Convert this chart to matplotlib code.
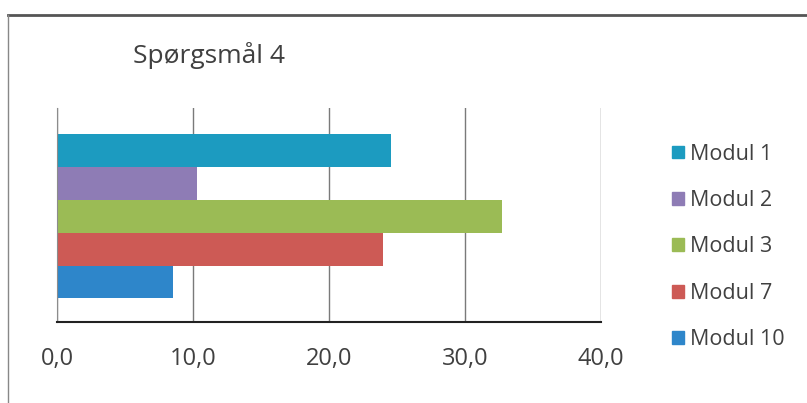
import matplotlib
matplotlib.use("Agg")
import matplotlib.pyplot as plt
from matplotlib.patches import Patch
from matplotlib.ticker import FuncFormatter

# data
series = ["Modul 1", "Modul 2", "Modul 3", "Modul 7", "Modul 10"]
values = [24.6, 10.3, 32.7, 24.0, 8.5]
colors = ["#1C9BC0", "#8E7CB5", "#9BBB55", "#CD5A55", "#2E86CA"]
xticks = [0, 10, 20, 30, 40]
title = "Spørgsmål 4"

plt.rcParams["font.family"] = ["Open Sans", "DejaVu Sans"]
txt = "#404040"

fig = plt.figure(figsize=(8.07, 4.03), dpi=100)
ax = fig.add_axes([0.0706, 0.200, 0.674, 0.532])

# one category, five series stacked top to bottom
pos = [len(series) - 1 - i for i in range(len(series))]
ax.barh(pos, values, height=1.0, color=colors, zorder=2)

ax.set_xlim(0, 40)
ax.set_ylim(-1.23, 5.29)
ax.set_xticks(xticks)
ax.xaxis.set_major_formatter(FuncFormatter(lambda v, p: f"{v:.1f}".replace(".", ",")))
ax.tick_params(axis="x", length=0, labelsize=17, colors=txt, pad=18)
ax.set_yticks([])
ax.grid(axis="x", color="#7a7a7a", lw=1.0, zorder=0)
for s in ["top", "right"]:
    ax.spines[s].set_visible(False)
ax.spines["left"].set_color("#8c8c8c")
ax.spines["bottom"].set_color("#222222")
ax.spines["bottom"].set_linewidth(1.5)

fig.text(0.165, 0.862, title, fontsize=19, color=txt, va="center", ha="left")

handles = [Patch(color=c, label=s) for c, s in zip(colors, series)]
leg = fig.legend(handles=handles, loc="upper left", bbox_to_anchor=(0.822, 0.665),
                 frameon=False, fontsize=15.5, handlelength=0.55, handleheight=0.55,
                 handletextpad=0.3, labelspacing=1.18, borderaxespad=0)
for t in leg.get_texts():
    t.set_color(txt)

# chart frame (scan shows top and left edges)
fig.add_artist(plt.Line2D([0.010, 1.0], [0.963, 0.963], color="#555555", lw=2))
fig.add_artist(plt.Line2D([0.010, 0.010], [0.0, 0.963], color="#888888", lw=1))

fig.savefig("out.png", dpi=100)
